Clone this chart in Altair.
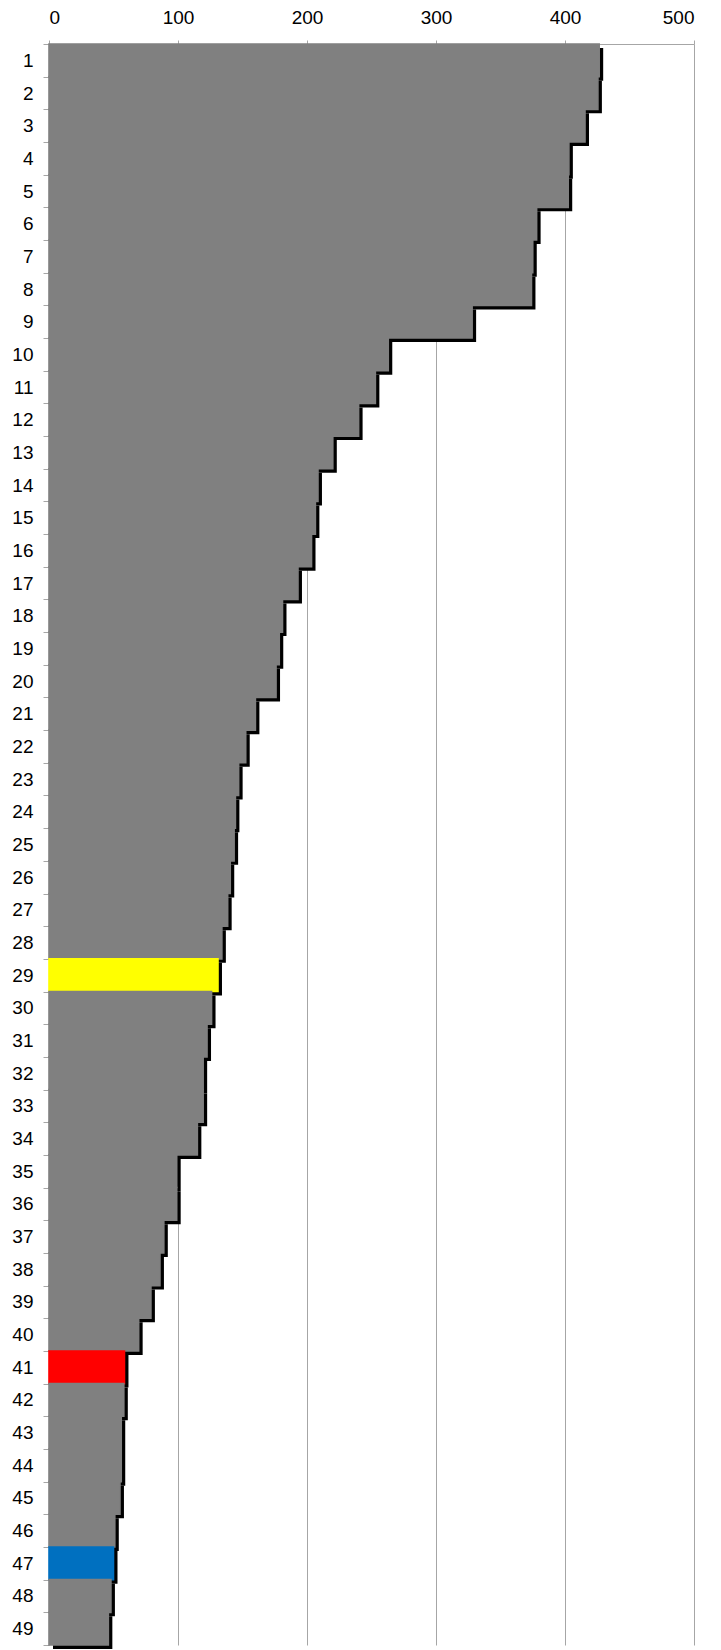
import altair as alt
import pandas as pd

categories = [str(i) for i in range(1, 50)]
values = [426.5, 425.5, 415.5, 403, 402.5, 378, 375, 374, 328, 263,
          253, 240, 220, 208.5, 206.5, 203.5, 193, 181, 178.5, 176,
          160, 152.5, 147, 144.5, 143.5, 140.5, 138.5, 134, 131, 126,
          122.5, 119.5, 119.5, 115, 99, 99, 89, 86, 79, 69.5,
          58.5, 58, 56, 56, 55, 51, 50, 48, 46]
highlight = {"29": "#FFFF00", "41": "#FF0000", "47": "#0070C0"}
base_color = "#808080"
x_ticks = [0, 100, 200, 300, 400, 500]

df = pd.DataFrame({
    "cat": categories,
    "value": values,
    "color": [highlight.get(c, base_color) for c in categories],
})

x_enc = alt.X("value:Q",
              scale=alt.Scale(domain=[0, 500], nice=False, zero=True),
              axis=alt.Axis(orient="top", values=x_ticks, title=None, grid=True,
                            gridColor="#A6A6A6", gridWidth=1,
                            domainColor="#A6A6A6", tickColor="#A6A6A6",
                            tickSize=4, labelPadding=13,
                            labelFont="Liberation Sans", labelFontSize=19,
                            labelColor="#000000"))
y_enc = alt.Y("cat:N", sort=categories,
              scale=alt.Scale(paddingInner=0, paddingOuter=0),
              axis=alt.Axis(title=None, grid=False, domain=False,
                            tickBand="extent", tickColor="#A6A6A6", tickSize=6,
                            labelPadding=10, labelFont="Liberation Sans",
                            labelFontSize=19, labelColor="#000000"))

shadow = alt.Chart(df).mark_bar(color="#000000", xOffset=4, x2Offset=4,
                                yOffset=4, y2Offset=4).encode(x=x_enc, y=y_enc)
bars = alt.Chart(df).mark_bar(strokeWidth=1.6).encode(
    x=x_enc, y=y_enc,
    color=alt.Color("color:N", scale=None),
    stroke=alt.Stroke("color:N", scale=None))

chart = alt.layer(shadow, bars).properties(
    width=645, height=1601,
    padding={"left": 41, "top": 36, "right": 10, "bottom": 5},
    autosize="none",
).configure_view(stroke=None)

chart.save("out.html", embed_options={"renderer": "svg", "actions": False})
